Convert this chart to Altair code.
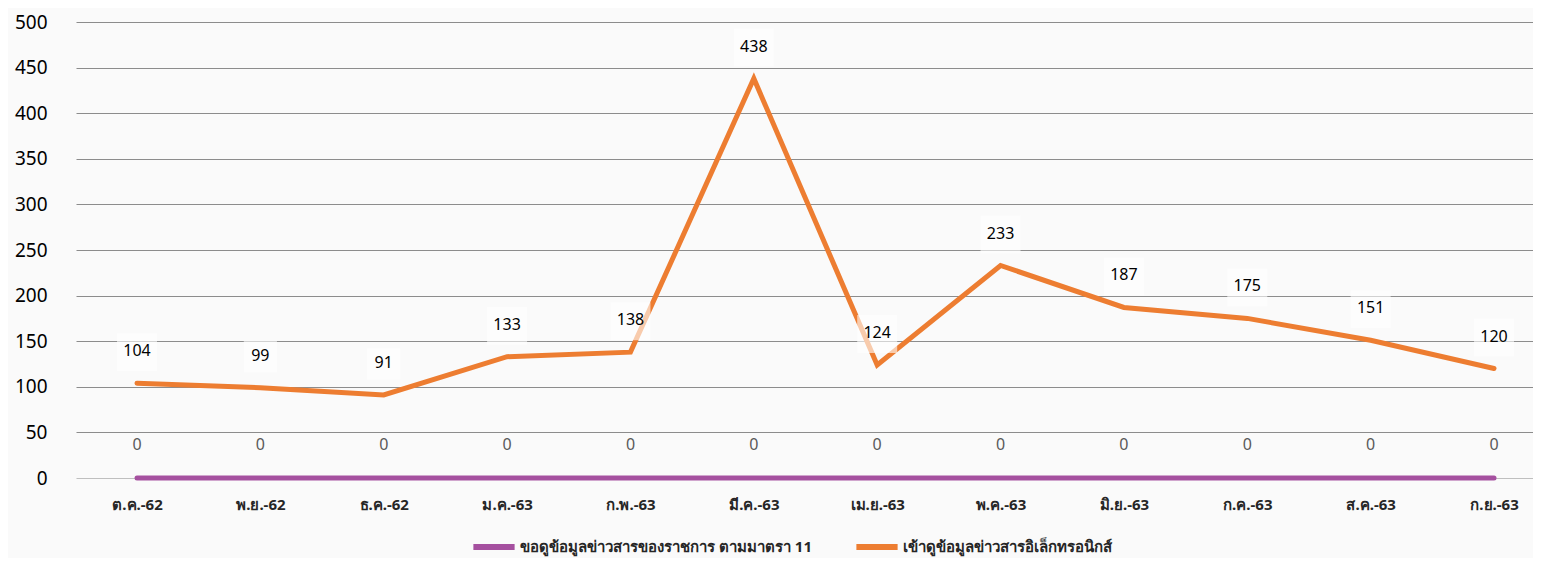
import altair as alt
import pandas as pd

months = ["ต.ค.-62", "พ.ย.-62", "ธ.ค.-62", "ม.ค.-63", "ก.พ.-63", "มี.ค.-63",
          "เม.ย.-63", "พ.ค.-63", "มิ.ย.-63", "ก.ค.-63", "ส.ค.-63", "ก.ย.-63"]
series_a = "ขอดูข้อมูลข่าวสารของราชการ ตามมาตรา 11"
series_b = "เข้าดูข้อมูลข่าวสารอิเล็กทรอนิกส์"
values_a = [0, 0, 0, 0, 0, 0, 0, 0, 0, 0, 0, 0]
values_b = [104, 99, 91, 133, 138, 438, 124, 233, 187, 175, 151, 120]
y_ticks = [0, 50, 100, 150, 200, 250, 300, 350, 400, 450, 500]

rows = []
for i, (m, v) in enumerate(zip(months, values_a)):
    rows.append({"idx": i, "month": m, "series": series_a, "value": v})
for i, (m, v) in enumerate(zip(months, values_b)):
    rows.append({"idx": i, "month": m, "series": series_b, "value": v,
                 "box": 1600 if v >= 100 else 1100})
df = pd.DataFrame(rows)
dfa = df[df.series == series_a]
dfb = df[df.series == series_b]

FONT = "Noto Sans, Tahoma, sans-serif"
label_expr = "[" + ",".join("'%s'" % m for m in months) + "][datum.value]"

x = alt.X("idx:Q", title=None,
          scale=alt.Scale(domain=[-0.4945, 11.316], nice=False, zero=False),
          axis=alt.Axis(values=list(range(len(months))), labelExpr=label_expr,
                        labelAngle=0, ticks=False, domain=False, grid=False,
                        labelFontSize=15, labelFontWeight="bold", labelColor="#262626",
                        labelPadding=19, labelFont=FONT))
y = alt.Y("value:Q", title=None,
          scale=alt.Scale(domain=[0, 500], nice=False),
          axis=alt.Axis(values=y_ticks, ticks=False, domain=False, grid=True,
                        gridColor={"condition": {"test": "datum.value === 0", "value": "#bfbfbf"},
                                   "value": "#8c8c8c"},
                        gridWidth=1,
                        labelFontSize=19, labelColor="#000000", labelPadding=29,
                        labelFont=FONT))

color = alt.Color("series:N", title=None,
                  scale=alt.Scale(domain=[series_a, series_b], range=["#A5509F", "#ED7D31"]),
                  legend=alt.Legend(orient="none", legendX=394, legendY=501,
                                    direction="horizontal",
                                    symbolType="stroke", symbolSize=1700,
                                    symbolStrokeWidth=6, labelFontSize=15,
                                    labelFontWeight="bold", labelColor="#262626",
                                    labelFont=FONT, columnPadding=32, labelOffset=2,
                                    labelLimit=500))

lines = alt.Chart(df).mark_line(strokeWidth=5, strokeCap="round").encode(
    x=x, y=y, color=color, detail="series:N")

boxes = alt.Chart(dfb).mark_point(
    shape="M-1,-0.95H1V0.95H-1Z", filled=True, fill="#ffffff", opacity=0.6,
    strokeWidth=0, yOffset=-31
).encode(x=x, y=y, size=alt.Size("box:Q", scale=None, legend=None))

labels_b = alt.Chart(dfb).mark_text(dy=-32, fontSize=16, color="#000000", font=FONT).encode(
    x=x, y=y, text="value:Q")
labels_a = alt.Chart(dfa).mark_text(dy=-33, fontSize=16, color="#595959", font=FONT).encode(
    x=x, y=y, text="value:Q")

chart = alt.layer(lines, boxes, labels_b, labels_a).properties(
    width=1457, height=456,
    autosize=alt.AutoSizeParams(type="none"),
    padding={"left": 68, "top": 14, "right": 0, "bottom": 80},
    background="#fafafa",
).configure_view(stroke=None, fill="#fafafa")

chart.save("out.html", embed_options={"renderer": "svg", "actions": False})
